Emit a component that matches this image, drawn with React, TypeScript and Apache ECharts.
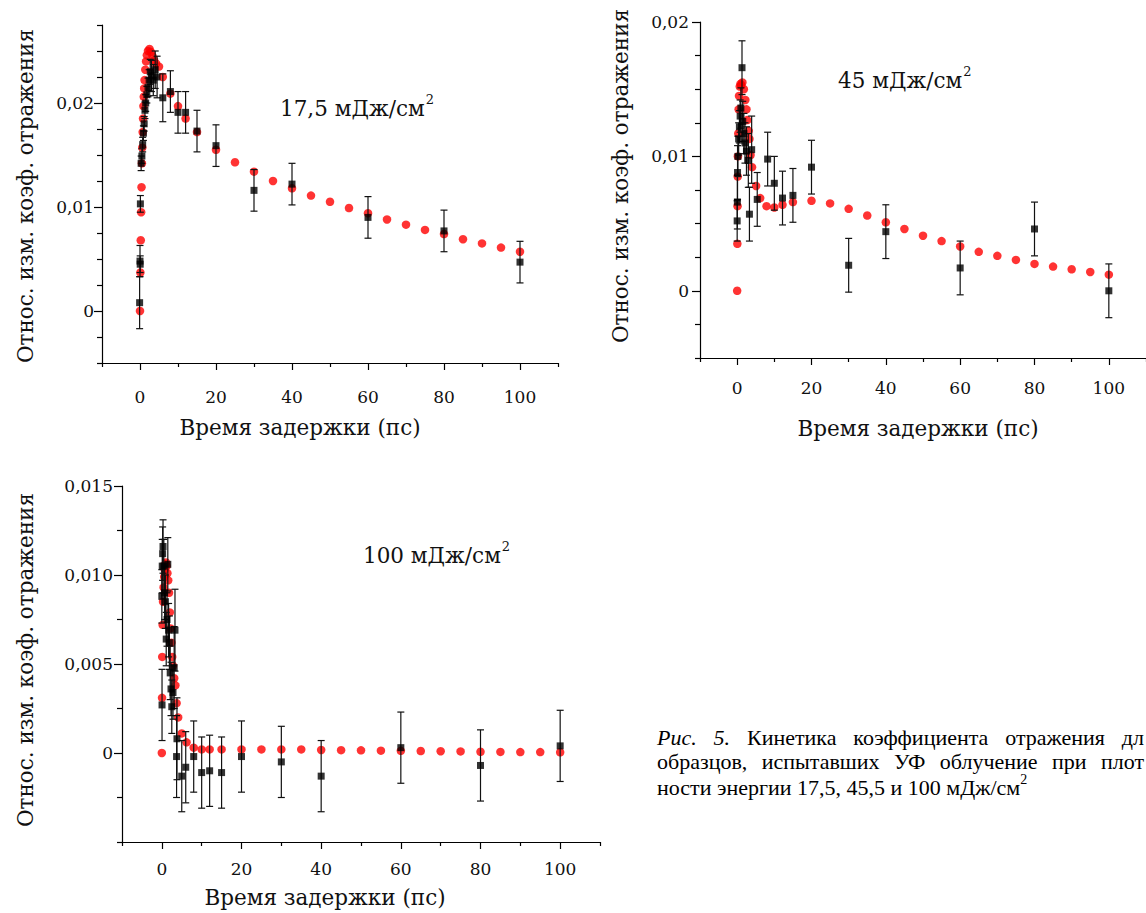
import React, { useEffect, useRef } from "react";
import * as echarts from "echarts";

// ---------- Panel 1: 17,5 мДж/см² ----------
const fitX1 = [0, 0.1, 0.2, 0.3, 0.4, 0.5, 0.6, 0.7, 0.8, 0.9, 1.0, 1.1, 1.2, 1.4, 1.6, 1.8, 2.1, 2.5, 2.9, 3.3, 3.7, 4.2, 5, 6, 8, 10, 12, 15, 20, 25, 30, 35, 40, 45, 50, 55, 60, 65, 70, 75, 80, 85, 90, 95, 100];
const fitY1 = [0.0, 0.0037, 0.0068, 0.0095, 0.0119, 0.0142, 0.0157, 0.0172, 0.0185, 0.0197, 0.0206, 0.0214, 0.0222, 0.0232, 0.024, 0.0246, 0.025, 0.0252, 0.0249, 0.0245, 0.0241, 0.0238, 0.0235, 0.0225, 0.0209, 0.0197, 0.0185, 0.0172, 0.0155, 0.0143, 0.0134, 0.0125, 0.0118, 0.0111, 0.0105, 0.0099, 0.0094, 0.0088, 0.0083, 0.0078, 0.0074, 0.0069, 0.0065, 0.0061, 0.0057];
const expX1 = [-0.1, 0, 0.05, 0.1, 0.3, 0.5, 0.7, 0.9, 1.1, 1.3, 1.5, 1.8, 2.1, 2.4, 2.7, 3.0, 3.5, 4.0, 4.5, 6, 8, 10, 12, 15, 20, 30, 40, 60, 80, 100];
const expY1 = [0.0008, 0.0048, 0.0045, 0.0103, 0.0142, 0.0149, 0.016, 0.0171, 0.018, 0.0193, 0.02, 0.0208, 0.0215, 0.0222, 0.023, 0.0226, 0.0222, 0.0232, 0.0225, 0.0205, 0.0211, 0.0191, 0.0191, 0.0173, 0.0159, 0.0116, 0.0122, 0.009, 0.0077, 0.0047];
const expErr1 = [0.0025, 0.0015, 0.0008, 0.0008, 0.0007, 0.0007, 0.0007, 0.0007, 0.0007, 0.0008, 0.0008, 0.0008, 0.0009, 0.001, 0.0012, 0.0015, 0.0015, 0.0018, 0.002, 0.0023, 0.002, 0.002, 0.002, 0.002, 0.002, 0.002, 0.002, 0.002, 0.002, 0.002];

// ---------- Panel 2: 45 мДж/см² ----------
const fitX2 = [0, 0.05, 0.1, 0.15, 0.2, 0.3, 0.4, 0.5, 0.7, 0.9, 1.1, 1.4, 1.8, 2.2, 2.5, 2.7, 3.1, 3.3, 3.6, 4.0, 5.1, 6.2, 7.9, 10, 12.2, 15, 20, 25, 30, 35, 40, 45, 50, 55, 60, 65, 70, 75, 80, 85, 90, 95, 100];
const fitY2 = [0.0, 0.0035, 0.0063, 0.0085, 0.01, 0.0117, 0.0135, 0.0145, 0.0152, 0.0154, 0.0153, 0.0155, 0.015, 0.0142, 0.0135, 0.0127, 0.0119, 0.0113, 0.0101, 0.0092, 0.0078, 0.0069, 0.0063, 0.0062, 0.0064, 0.0066, 0.0067, 0.0065, 0.0061, 0.0056, 0.0051, 0.0046, 0.0041, 0.0037, 0.0033, 0.0029, 0.0026, 0.0023, 0.002, 0.0018, 0.0016, 0.0014, 0.0012];
const expX2 = [0, 0.05, 0.1, 0.2, 0.4, 0.6, 0.8, 1.0, 1.3, 1.5, 1.8, 2.1, 2.5, 3.0, 3.3, 3.9, 5.4, 8.2, 10, 12.2, 15, 20, 30, 40, 60, 80, 100];
const expY2 = [0.0052, 0.0066, 0.0088, 0.01, 0.0113, 0.0122, 0.013, 0.0136, 0.0166, 0.0126, 0.0117, 0.011, 0.0104, 0.0097, 0.0057, 0.0105, 0.0068, 0.0098, 0.008, 0.0069, 0.0071, 0.0092, 0.0019, 0.0044, 0.0017, 0.0046, 0.0];
const expErr2 = [0.0015, 0.002, 0.002, 0.0015, 0.0012, 0.0012, 0.0012, 0.0015, 0.002, 0.0015, 0.0015, 0.0015, 0.0018, 0.002, 0.002, 0.0025, 0.002, 0.002, 0.002, 0.002, 0.002, 0.002, 0.002, 0.002, 0.002, 0.002, 0.002];

// ---------- Panel 3: 100 мДж/см² ----------
const fitX3 = [0, 0.05, 0.1, 0.2, 0.3, 0.45, 0.6, 0.75, 0.9, 1.05, 1.2, 1.4, 1.6, 1.8, 2.0, 2.2, 2.4, 2.6, 2.8, 3.1, 3.4, 3.7, 4.1, 5.0, 6.2, 8, 10, 12, 15, 20, 25, 30, 35, 40, 45, 50, 55, 60, 65, 70, 75, 80, 85, 90, 95, 100];
const fitY3 = [0.0, 0.0031, 0.0054, 0.0072, 0.0085, 0.0093, 0.0099, 0.0103, 0.0106, 0.0107, 0.0105, 0.0101, 0.0097, 0.009, 0.0079, 0.007, 0.0062, 0.0054, 0.0049, 0.0042, 0.0038, 0.0028, 0.002, 0.0011, 0.0006, 0.0003, 0.0002, 0.0002, 0.0002, 0.0002, 0.0002, 0.0002, 0.0002, 0.00017, 0.00016, 0.00015, 0.00013, 0.00012, 0.00011, 0.0001, 0.00009, 0.00007, 0.00006, 0.00005, 0.00005, 0.00004];
const expX3 = [0, 0.05, 0.1, 0.2, 0.3, 0.5, 0.7, 0.9, 1.1, 1.3, 1.5, 1.7, 1.9, 2.1, 2.3, 2.5, 2.8, 3.1, 3.3, 3.7, 3.8, 5, 6, 8, 10, 12, 15, 20, 30, 40, 60, 80, 100];
const expY3 = [0.0088, 0.0027, 0.0105, 0.0112, 0.0116, 0.0105, 0.009, 0.0085, 0.0064, 0.0075, 0.0106, 0.0069, 0.0062, 0.0045, 0.0036, 0.0026, 0.0034, 0.0048, 0.0069, -0.0002, 0.0008, -0.0013, -0.0008, -0.0002, -0.0011, -0.001, -0.0011, -0.0002, -0.0005, -0.0013, 0.0003, -0.0007, 0.0004];
const expErr3 = [0.0015, 0.002, 0.0015, 0.0015, 0.0015, 0.0015, 0.0015, 0.0015, 0.0015, 0.0015, 0.0015, 0.0015, 0.0015, 0.0015, 0.0015, 0.0015, 0.0015, 0.0023, 0.0023, 0.0023, 0.0023, 0.002, 0.002, 0.002, 0.002, 0.002, 0.002, 0.002, 0.002, 0.002, 0.002, 0.002, 0.002];

// ---------- ticks ----------
const xMajorTicks = [0, 20, 40, 60, 80, 100];
const xMajorLabels = ["0", "20", "40", "60", "80", "100"];
const xMinorTicks = [-10, 10, 30, 50, 70, 90, 110];
const yMajor12 = [0, 0.01, 0.02];
const yLabels12 = ["0", "0,01", "0,02"];
const yMinor1 = [-0.005, -0.0025, 0.0025, 0.005, 0.0075, 0.0125, 0.015, 0.0175, 0.0225, 0.025, 0.0275];
const yMinor2 = [-0.005, -0.0025, 0.0025, 0.005, 0.0075, 0.0125, 0.015, 0.0175];
const yMajor3 = [0, 0.005, 0.01, 0.015];
const yLabels3 = ["0", "0,005", "0,010", "0,015"];
const yMinor3 = [-0.005, -0.0025, 0.0025, 0.0075, 0.0125];

const xTitle = "Время задержки (пс)";
const yTitle = "Относ. изм. коэф. отражения";
const energies = ["17,5", "45", "100"];

// caption as visible in the reference (the page cuts the last words)
const captionLine1: [string, boolean][] = [
  ["Рис.", true],
  ["5.", true],
  ["Кинетика", false],
  ["коэффициента", false],
  ["отражения", false],
  ["дл", false],
];
const captionLine2: [string, boolean][] = [
  ["образцов,", false],
  ["испытавших", false],
  ["УФ", false],
  ["облучение", false],
  ["при", false],
  ["плот", false],
];
const captionLine3 = "ности энергии 17,5, 45,5 и 100 мДж/см";

const SERIF = '"DejaVu Serif", "Liberation Serif", serif';
const TIMES = '"Liberation Serif", "Times New Roman", serif';
const AX = "#000";
const CAP_SIZE = 22;

function zip(xs: number[], ys: number[]) {
  return xs.map((x, i) => [x, ys[i]]);
}
function zip3(xs: number[], ys: number[], es: number[]) {
  return xs.map((x, i) => [x, ys[i], es[i]]);
}
function labelOf(values: number[], labels: string[]) {
  return (v: number) => {
    const i = values.findIndex((t) => Math.abs(t - v) < 1e-9);
    return i >= 0 ? labels[i] : "";
  };
}

function errRender(params: any, api: any) {
  const x = api.value(0);
  const y = api.value(1);
  const e = api.value(2);
  const top = api.coord([x, y + e]);
  const bot = api.coord([x, y - e]);
  const hw = 3.5;
  const st = { stroke: "#111", lineWidth: 1.2 };
  return {
    type: "group",
    children: [
      { type: "line", shape: { x1: top[0], y1: top[1], x2: bot[0], y2: bot[1] }, style: st },
      { type: "line", shape: { x1: top[0] - hw, y1: top[1], x2: top[0] + hw, y2: top[1] }, style: st },
      { type: "line", shape: { x1: bot[0] - hw, y1: bot[1], x2: bot[0] + hw, y2: bot[1] }, style: st },
    ],
  };
}

function xAxes(gi: number, margin: number) {
  return [
    {
      type: "value",
      gridIndex: gi,
      min: -10,
      max: 110,
      position: "bottom",
      axisLine: { show: true, onZero: false, lineStyle: { color: AX, width: 1.2 } },
      axisTick: { show: true, length: 7, customValues: xMajorTicks, lineStyle: { color: AX, width: 1.2 } },
      axisLabel: {
        customValues: xMajorTicks,
        formatter: labelOf(xMajorTicks, xMajorLabels),
        margin,
        color: "#111",
        fontFamily: SERIF,
        fontSize: 17,
      },
      splitLine: { show: false },
    },
    {
      type: "value",
      gridIndex: gi,
      min: -10,
      max: 110,
      position: "bottom",
      axisLine: { show: false, onZero: false },
      axisTick: { show: true, length: 4, customValues: xMinorTicks, lineStyle: { color: AX, width: 1.2 } },
      axisLabel: { show: false },
      splitLine: { show: false },
    },
  ];
}

function yAxes(gi: number, min: number, max: number, major: number[], labels: string[], minor: number[], margin: number) {
  return [
    {
      type: "value",
      gridIndex: gi,
      min,
      max,
      position: "left",
      axisLine: { show: true, onZero: false, lineStyle: { color: AX, width: 1.2 } },
      axisTick: { show: true, length: 8, customValues: major, lineStyle: { color: AX, width: 1.2 } },
      axisLabel: {
        customValues: major,
        formatter: labelOf(major, labels),
        margin,
        color: "#111",
        fontFamily: SERIF,
        fontSize: 17,
      },
      splitLine: { show: false },
    },
    {
      type: "value",
      gridIndex: gi,
      min,
      max,
      position: "left",
      axisLine: { show: false, onZero: false },
      axisTick: { show: true, length: 5, customValues: minor, lineStyle: { color: AX, width: 1.2 } },
      axisLabel: { show: false },
      splitLine: { show: false },
    },
  ];
}

function panelSeries(gi: number, fx: number[], fy: number[], ex: number[], ey: number[], ee: number[]) {
  const xi = gi * 2;
  const yi = gi * 2;
  return [
    {
      type: "scatter",
      xAxisIndex: xi,
      yAxisIndex: yi,
      data: zip(fx, fy),
      symbol: "circle",
      symbolSize: 8.5,
      itemStyle: { color: "#ff0000" },
      silent: true,
      z: 2,
    },
    {
      type: "custom",
      xAxisIndex: xi,
      yAxisIndex: yi,
      data: zip3(ex, ey, ee),
      encode: { x: 0, y: 1 },
      renderItem: errRender,
      silent: true,
      z: 3,
    },
    {
      type: "scatter",
      xAxisIndex: xi,
      yAxisIndex: yi,
      data: zip(ex, ey),
      symbol: "rect",
      symbolSize: 7,
      itemStyle: { color: "#000" },
      silent: true,
      z: 4,
    },
  ];
}

function titleText(x: number, y: number, text: string, rotate: boolean) {
  return {
    type: "text",
    x,
    y,
    rotation: rotate ? Math.PI / 2 : 0,
    style: {
      text,
      fill: "#111",
      fontFamily: SERIF,
      fontSize: 21.5,
      align: "center",
      verticalAlign: "middle",
    },
    silent: true,
  };
}

function energyText(x: number, y: number, value: string) {
  return {
    type: "text",
    x,
    y,
    style: {
      text: `{b|${value} мДж/см}{s|2}`,
      fill: "#111",
      align: "left",
      verticalAlign: "middle",
      rich: {
        b: { fontFamily: SERIF, fontSize: 21.5, lineHeight: 26, verticalAlign: "bottom" },
        s: { fontFamily: SERIF, fontSize: 13, lineHeight: 26, verticalAlign: "top", padding: [0, 0, 0, 1] },
      },
    },
    silent: true,
  };
}

function captionWord(text: string, x: number, y: number, italic: boolean) {
  return {
    type: "text",
    x,
    y,
    style: {
      text,
      fill: "#000",
      fontFamily: TIMES,
      fontSize: CAP_SIZE,
      fontStyle: italic ? "italic" : "normal",
      align: "left",
      verticalAlign: "middle",
    },
    silent: true,
  };
}

function justifyLine(words: [string, boolean][], y: number, left: number, right: number) {
  const ctx = document.createElement("canvas").getContext("2d") as CanvasRenderingContext2D;
  const widths = words.map(([t, it]) => {
    ctx.font = `${it ? "italic " : ""}${CAP_SIZE}px "Liberation Serif"`;
    return ctx.measureText(t).width;
  });
  const total = widths.reduce((a, b) => a + b, 0);
  const gap = (right - left - total) / (words.length - 1);
  let x = left;
  return words.map(([t, it], i) => {
    const el = captionWord(t, x, y, it);
    x += widths[i] + gap;
    return el;
  });
}

export default function App() {
  const ref = useRef<HTMLDivElement>(null);
  useEffect(() => {
    document.body.style.margin = "0";
    if (!ref.current) return;
    const chart = echarts.init(ref.current, undefined, { renderer: "svg" });
    const graphics: any[] = [
      titleText(25, 196, yTitle, true),
      titleText(300, 427, xTitle, false),
      titleText(620, 176, yTitle, true),
      titleText(918, 428, xTitle, false),
      titleText(25, 660, yTitle, true),
      titleText(325, 897, xTitle, false),
      energyText(280, 106, energies[0]),
      energyText(838, 78, energies[1]),
      energyText(363, 553, energies[2]),
      ...justifyLine(captionLine1, 737, 657, 1144),
      ...justifyLine(captionLine2, 761, 657, 1144),
      {
        type: "text",
        x: 657,
        y: 785,
        style: {
          text: `{b|${captionLine3}}{s|2}`,
          fill: "#000",
          align: "left",
          verticalAlign: "middle",
          rich: {
            b: { fontFamily: TIMES, fontSize: CAP_SIZE, lineHeight: 26, verticalAlign: "bottom" },
            s: { fontFamily: TIMES, fontSize: 14, lineHeight: 26, verticalAlign: "top" },
          },
        },
        silent: true,
      },
    ];
    chart.setOption({
      animation: false,
      backgroundColor: "#fff",
      grid: [
        { left: 102, top: 25, width: 456, height: 338 },
        { left: 700, top: 22, width: 451, height: 336 },
        { left: 122, top: 486, width: 478, height: 356 },
      ],
      xAxis: [...xAxes(0, 25), ...xAxes(1, 21), ...xAxes(2, 18)],
      yAxis: [
        ...yAxes(0, -0.005, 0.0275, yMajor12, yLabels12, yMinor1, 8),
        ...yAxes(1, -0.005, 0.02, yMajor12, yLabels12, yMinor2, 11),
        ...yAxes(2, -0.005, 0.015, yMajor3, yLabels3, yMinor3, 9),
      ],
      series: [
        ...panelSeries(0, fitX1, fitY1, expX1, expY1, expErr1),
        ...panelSeries(1, fitX2, fitY2, expX2, expY2, expErr2),
        ...panelSeries(2, fitX3, fitY3, expX3, expY3, expErr3),
      ],
      graphic: graphics,
    });
    return () => chart.dispose();
  }, []);
  return <div ref={ref} style={{ width: 1146, height: 913 }} />;
}
